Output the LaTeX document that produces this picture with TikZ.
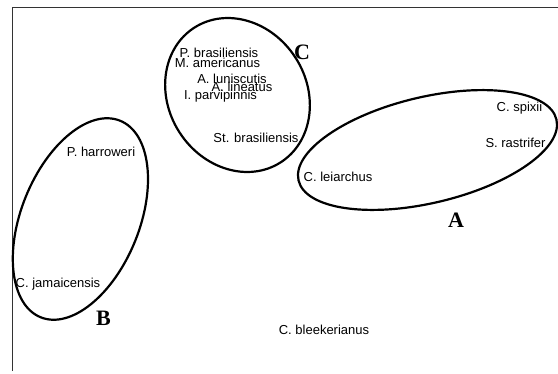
\documentclass[tikz,border=0pt]{standalone}
\usepackage{fontspec}
\setmainfont{Liberation Sans}
\newfontfamily\grpfont{Liberation Serif}
\usepackage{tikz}
\usetikzlibrary{shapes.geometric}

\tikzset{
    species/.style={inner sep=0pt, text height=9.3pt, text depth=0pt,
        font=\fontsize{13}{15}\selectfont, text=black},
    cluster/.style={ellipse, draw=black, line width=2.2pt, inner sep=0pt},
    grouplabel/.style={inner sep=0pt, text height=14.6pt, text depth=0pt,
        font=\grpfont\bfseries\fontsize{22}{24}\selectfont},
}

\begin{document}
\begin{tikzpicture}[x=1pt, y=-1pt]
    \useasboundingbox (0,0) rectangle (558,373);

    % Define frame
    \coordinate (corner) at (12.5,7);
    \coordinate (topend) at (558,7);
    \coordinate (leftend) at (12.5,371);
    \draw[black!80, line width=1pt] (leftend) -- (corner) -- (topend);

    % Define species nodes
    \node[species]	(pbras)		at (219,53)		{P. brasiliensis};
    \node[species]	(mamer)		at (217.5,63)	{M. americanus};
    \node[species]	(alun)		at (232,79)		{A. luniscutis};
    \node[species]	(alin)		at (242,87)		{A. lineatus};
    \node[species]	(ipar)		at (220.5,95)	{I. parvipinnis};
    \node[species]	(stbras)	at (256,138)	{St. brasiliensis};
    \node[species]	(cspix)		at (519.5,107)	{C. spixii};
    \node[species]	(srast)		at (515.5,143)	{S. rastrifer};
    \node[species]	(cleia)		at (338,177)	{C. leiarchus};
    \node[species]	(pharr)		at (101,152)	{P. harroweri};
    \node[species]	(cjam)		at (58,283)		{C. jamaicensis};
    \node[species]	(cblee)		at (324,330)	{C. bleekerianus};

    % Define clusters
    \node[cluster, minimum width=265pt, minimum height=106pt, rotate=13.3]
        (clusterA) at (427.5,150) {};
    \node[cluster, minimum width=212pt, minimum height=118pt, rotate=68]
        (clusterB) at (80.4,219) {};
    \node[cluster, minimum width=160pt, minimum height=138pt, rotate=122.6]
        (clusterC) at (237.5,95) {};

    % add group labels
    \node[grouplabel]	(labA)	at (456,220)	{A};
    \node[grouplabel]	(labB)	at (103.5,318)	{B};
    \node[grouplabel]	(labC)	at (302,52)		{C};
\end{tikzpicture}
\end{document}
